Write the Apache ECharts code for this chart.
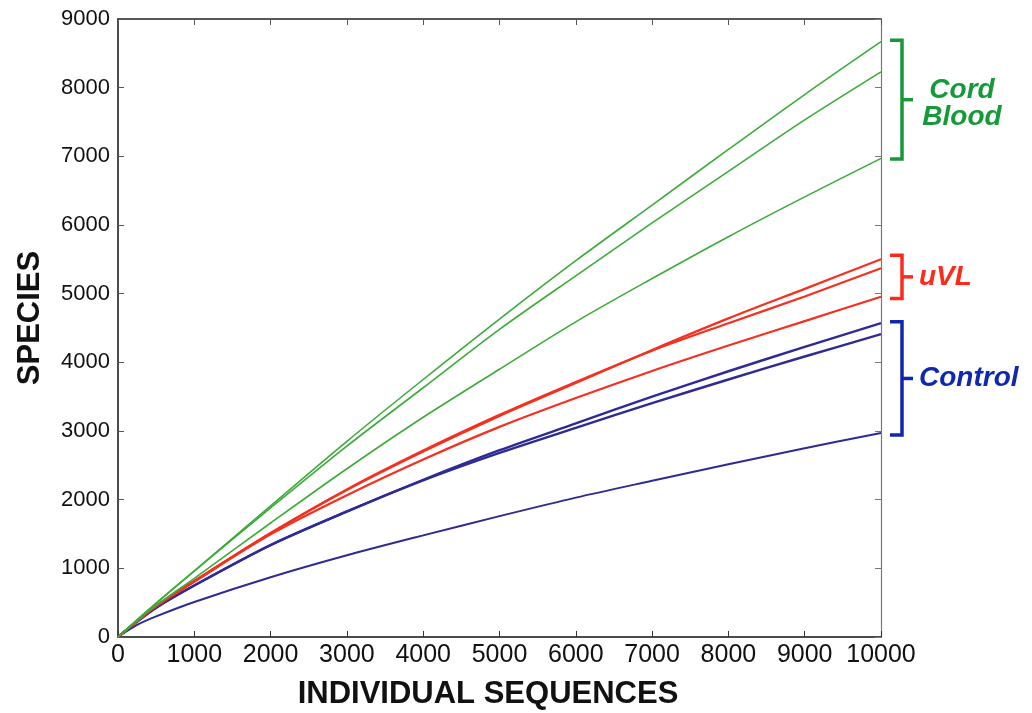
<!DOCTYPE html>
<html>
<head>
<meta charset="utf-8">
<title>Species rarefaction</title>
<script src="https://cdn.jsdelivr.net/npm/echarts@6/dist/echarts.min.js"></script>
<style>
  html, body { margin: 0; padding: 0; background: #fff; }
  #box { width: 1032px; height: 713px; }
</style>
</head>
<body>
<div id="box"></div>
<script>
// x positions (individual sequences)
const xs = [0, 250, 500, 1000, 2000, 3000, 4000, 5000, 6000, 7000, 8000, 9000, 10000];

// species counts
const cordBlood1 = [0, 250, 492, 965, 1910, 2850, 3750, 4630, 5480, 6290, 7100, 7900, 8670];
const cordBlood2 = [0, 250, 490, 960, 1880, 2780, 3630, 4480, 5260, 6030, 6780, 7530, 8230];
const cordBlood3 = [0, 235, 460, 855, 1660, 2450, 3200, 3900, 4590, 5220, 5830, 6410, 6970];
const uvl1 = [0, 232, 450, 815, 1510, 2140, 2700, 3220, 3700, 4180, 4640, 5070, 5500];
const uvl2 = [0, 232, 450, 815, 1515, 2150, 2715, 3235, 3715, 4170, 4570, 4960, 5370];
const uvl3 = [0, 230, 445, 805, 1495, 2065, 2585, 3060, 3480, 3875, 4245, 4600, 4955];
const control1 = [0, 225, 428, 750, 1340, 1830, 2290, 2720, 3110, 3500, 3870, 4225, 4570];
const control2 = [0, 225, 428, 750, 1338, 1825, 2280, 2680, 3045, 3405, 3750, 4085, 4410];
const control3 = [0, 176, 300, 510, 870, 1190, 1480, 1760, 2030, 2275, 2515, 2750, 2970];

// bracket groups on the right
const groupNames = ["Cord\nBlood", "uVL", "Control"];
const groupTop = [8690, 5560, 4590];
const groupBottom = [6960, 4930, 2940];
const groupColors = ["#17993a", "#ff2a1a", "#1028b0"];

const lineGreen = "#3dab3a";
const lineRed = "#f5301f";
const lineBlue = "#2e2c94";

function pairs(ys) {
  return xs.map((x, i) => [x, ys[i]]);
}

function curve(ys, color, width) {
  return {
    type: "line",
    data: pairs(ys),
    smooth: 0.3,
    showSymbol: false,
    lineStyle: { color: color, width: width },
    silent: true
  };
}

// plain numbers on the ticks, no thousands separator
function plain(v) {
  return String(v);
}

let myCharts = echarts.init(document.getElementById("box"));

let option = {
  animation: false,
  grid: { left: 118, right: 151, top: 19, bottom: 76 },
  xAxis: [
    {
      type: "value",
      min: 0,
      max: 10000,
      interval: 1000,
      splitLine: { show: false },
      axisLine: { onZero: false, lineStyle: { color: "#111", width: 1.5 } },
      axisTick: { inside: true, length: 6, lineStyle: { color: "#333" } },
      axisLabel: { color: "#111", fontSize: 25, fontFamily: "Liberation Sans", margin: 6, formatter: plain }
    },
    {
      // top border of the box
      type: "value",
      position: "top",
      min: 0,
      max: 10000,
      interval: 1000,
      splitLine: { show: false },
      axisLine: { show: true, onZero: false, lineStyle: { color: "#222", width: 1.5 } },
      axisTick: { show: true, inside: true, length: 6, lineStyle: { color: "#555" } },
      axisLabel: { show: false }
    }
  ],
  yAxis: [
    {
      type: "value",
      min: 0,
      max: 9000,
      interval: 1000,
      splitLine: { show: false },
      axisLine: { show: true, onZero: false, lineStyle: { color: "#111", width: 1.5 } },
      axisTick: { show: true, inside: true, length: 6, lineStyle: { color: "#555" } },
      axisLabel: { color: "#111", fontSize: 22, fontFamily: "Liberation Sans", margin: 8, formatter: plain }
    },
    {
      // right border of the box
      type: "value",
      position: "right",
      min: 0,
      max: 9000,
      interval: 1000,
      splitLine: { show: false },
      axisLine: { show: true, onZero: false, lineStyle: { color: "#777", width: 1.2 } },
      axisTick: { show: true, inside: true, length: 6, lineStyle: { color: "#777" } },
      axisLabel: { show: false }
    }
  ],
  // blue first, green last (green sits on top near the origin)
  series: [
    curve(control3, lineBlue, 2),
    curve(control2, lineBlue, 2.4),
    curve(control1, lineBlue, 2.4),
    curve(uvl3, lineRed, 2.2),
    curve(uvl2, lineRed, 2.2),
    curve(uvl1, lineRed, 2.2),
    curve(cordBlood3, lineGreen, 1.6),
    curve(cordBlood2, lineGreen, 1.6),
    curve(cordBlood1, lineGreen, 1.6)
  ]
};

myCharts.setOption(option);

// axis titles and the group brackets
let graphics = [
  {
    type: "text",
    x: 30,
    y: 318,
    rotation: Math.PI / 2,
    style: {
      text: "SPECIES",
      font: "bold 31px 'Liberation Sans', Arial, sans-serif",
      fill: "#111",
      align: "center",
      verticalAlign: "middle"
    }
  },
  {
    type: "text",
    x: 488,
    y: 694,
    style: {
      text: "INDIVIDUAL SEQUENCES",
      font: "bold 31px 'Liberation Sans', Arial, sans-serif",
      fill: "#111",
      align: "center",
      verticalAlign: "middle"
    }
  }
];

let xEnd = myCharts.convertToPixel({ xAxisIndex: 0 }, 10000);
let xr = xEnd + 21;
groupNames.forEach((name, i) => {
  let top = myCharts.convertToPixel({ yAxisIndex: 0 }, groupTop[i]);
  let bottom = myCharts.convertToPixel({ yAxisIndex: 0 }, groupBottom[i]);
  let mid = (top + bottom) / 2;
  let col = groupColors[i];
  graphics.push({
    type: "polyline",
    shape: { points: [[xr - 12, top], [xr, top], [xr, bottom], [xr - 12, bottom]] },
    style: { stroke: col, lineWidth: 3.5, fill: null, lineJoin: "miter" }
  });
  graphics.push({
    type: "line",
    shape: { x1: xr, y1: mid, x2: xr + 11, y2: mid },
    style: { stroke: col, lineWidth: 3.5 }
  });
  let twoLines = name.indexOf("\n") >= 0;
  graphics.push({
    type: "text",
    x: twoLines ? xr + 60 : xr + 17,
    y: twoLines ? mid + 4 : mid,
    style: {
      text: name,
      font: "italic bold 28px 'Liberation Sans', Arial, sans-serif",
      fill: col,
      align: twoLines ? "center" : "left",
      verticalAlign: "middle",
      lineHeight: 27
    }
  });
});

myCharts.setOption({ graphic: graphics });
</script>
</body>
</html>
